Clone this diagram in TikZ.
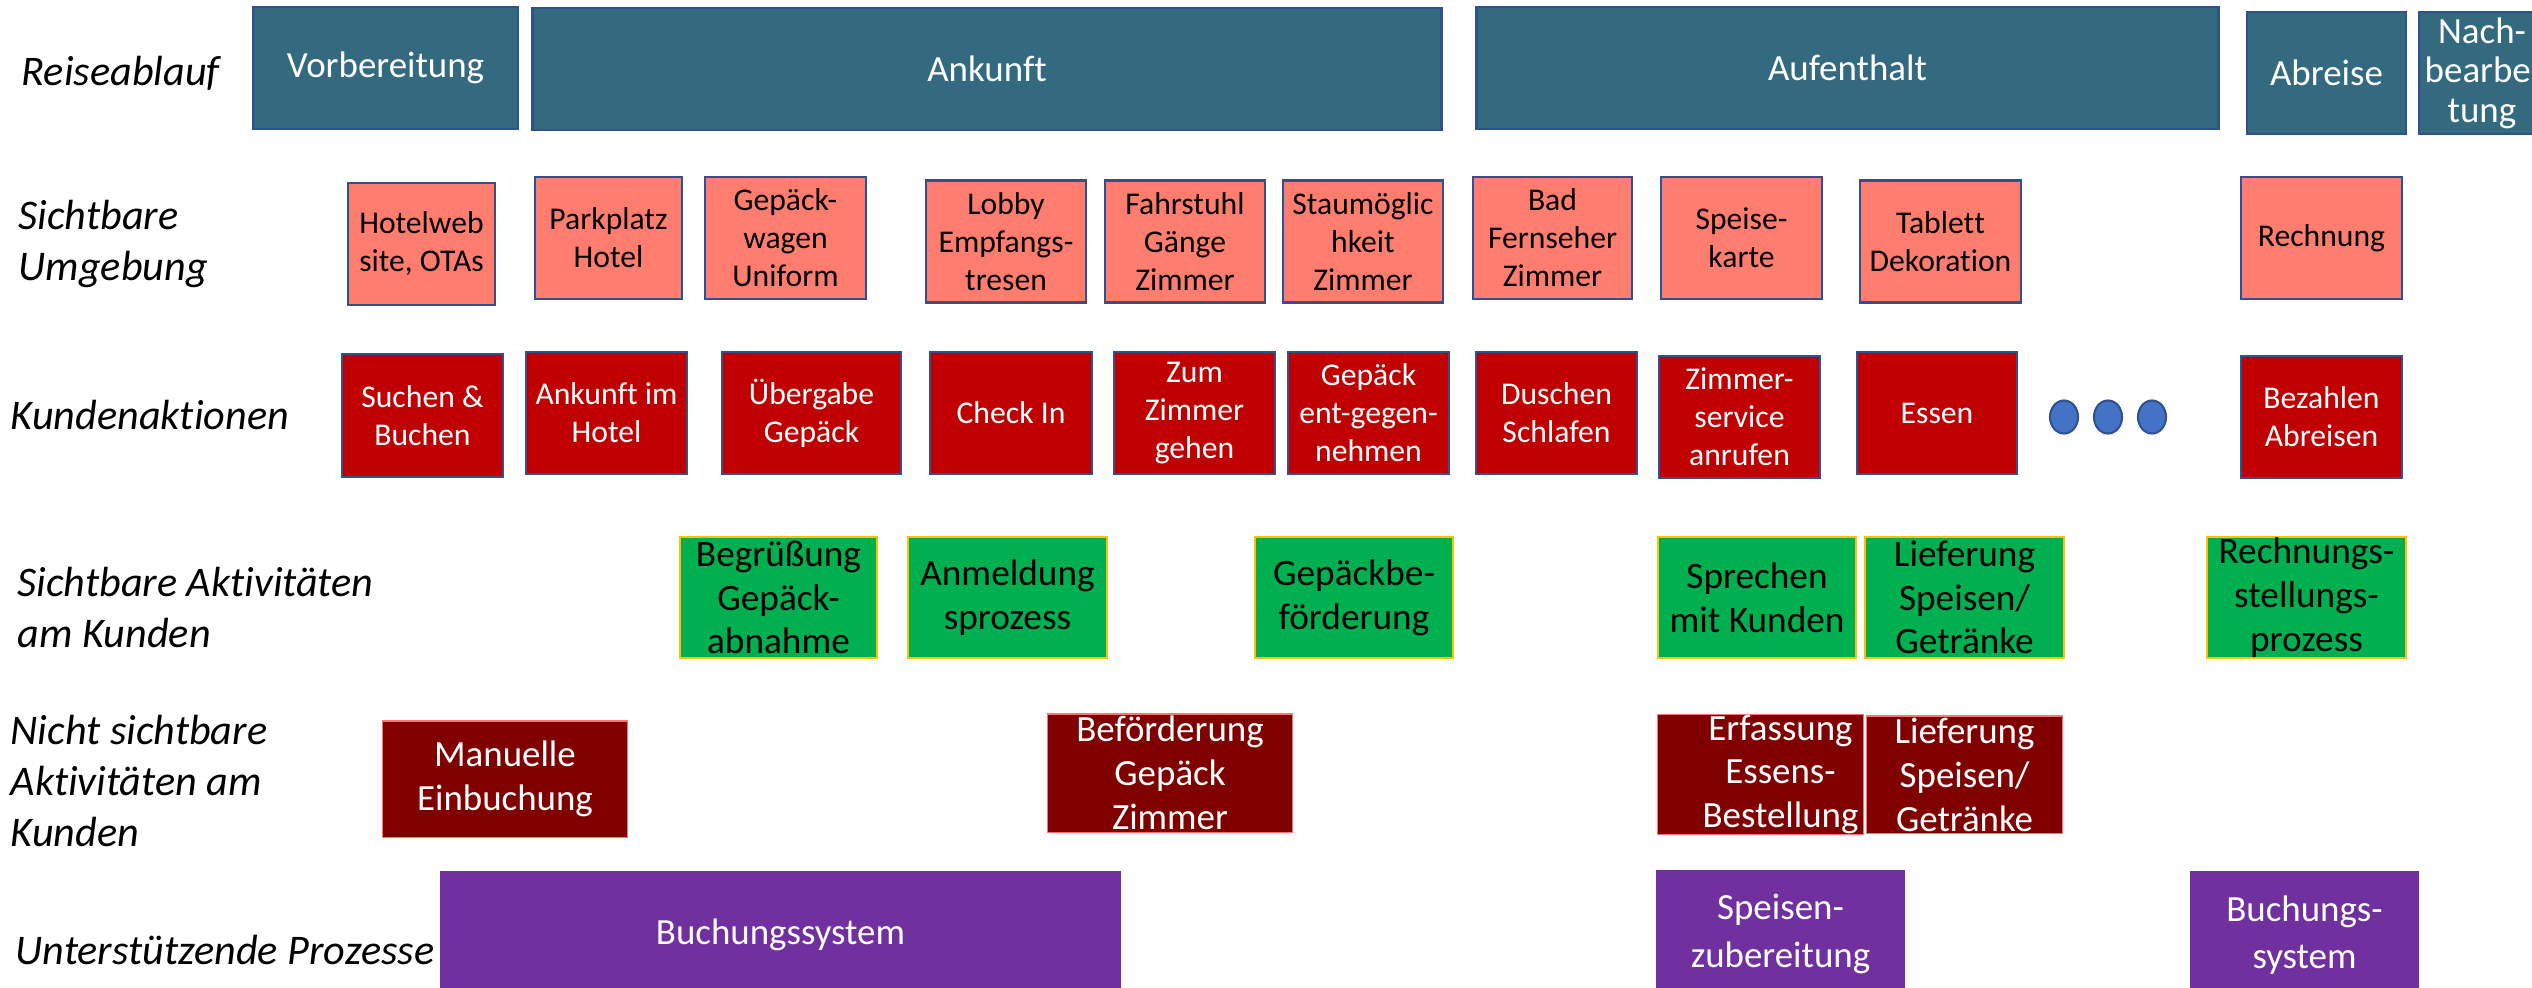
\documentclass[tikz,border=0pt]{standalone}
\usepackage{fontspec}
\setmainfont{Carlito}[Ligatures=NoCommon]
\usetikzlibrary{shapes.geometric}

\definecolor{tealbox}{RGB}{51,106,127}
\definecolor{edgeblue}{RGB}{47,82,143}
\definecolor{salmonbox}{RGB}{255,125,111}
\definecolor{redbox}{RGB}{192,0,0}
\definecolor{greenbox}{RGB}{0,176,80}
\definecolor{goldedge}{RGB}{255,192,0}
\definecolor{darkredbox}{RGB}{128,0,0}
\definecolor{purplebox}{RGB}{112,48,160}
\definecolor{dotblue}{RGB}{68,114,196}

\begin{document}
\begin{tikzpicture}[x=0.01cm, y=-0.01cm,
    lab/.style={anchor=west, align=left, inner sep=0pt, font=\fontsize{12}{14.5}\selectfont\itshape},
    phase/.style={draw=edgeblue, line width=0.8pt, fill=tealbox, text=white, align=center, inner sep=0pt, minimum height=1.22cm, font=\fontsize{10.5}{11.2}\selectfont},
    umgebung/.style={draw=edgeblue, line width=0.8pt, fill=salmonbox, text=black, align=center, inner sep=0pt, minimum width=1.61cm, minimum height=1.22cm, font=\fontsize{9}{10.8}\selectfont},
    aktion/.style={draw=edgeblue, line width=0.8pt, fill=redbox, text=white, align=center, inner sep=0pt, minimum width=1.61cm, minimum height=1.22cm, font=\fontsize{9}{10.8}\selectfont},
    sichtbar/.style={draw=goldedge, line width=0.5pt, fill=greenbox, text=black, align=center, inner sep=0pt, minimum width=1.98cm, minimum height=1.21cm, font=\fontsize{10.6}{12.4}\selectfont},
    verdeckt/.style={draw=red!55!white, line width=0.3pt, fill=darkredbox, text=white, align=center, inner sep=0pt, minimum height=1.17cm, font=\fontsize{10.5}{12.5}\selectfont},
    support/.style={fill=purplebox, text=white, align=center, inner sep=0pt, minimum height=1.28cm, font=\fontsize{10.5}{13.4}\selectfont},
    dot/.style={ellipse, draw=edgeblue, line width=0.6pt, fill=dotblue, minimum width=0.28cm, minimum height=0.33cm, inner sep=0pt}]

    % page size of the reference
    \useasboundingbox (0,0) rectangle (2532,987);

    % row titles
    \node[lab] (tReise) at (21,73) {Reiseablauf};
    \node[lab] (tUmgebung) at (18,244) {Sichtbare\\Umgebung};
    \node[lab] (tKunde) at (10,415) {Kundenaktionen};
    \node[lab] (tSichtbar) at (17,607) {Sichtbare Aktivitäten\\am Kunden};
    \node[lab] (tVerdeckt) at (10,781) {Nicht sichtbare\\Aktivitäten am\\Kunden};
    \node[lab] (tSupport) at (15,950) {Unterstützende Prozesse};

    % Reiseablauf
    \node[phase, minimum width=2.65cm] (vorb) at (385.5,68) {Vorbereitung};
    \node[phase, minimum width=9.08cm] (ankunft) at (987,69) {Ankunft};
    \node[phase, minimum width=7.41cm] (aufent) at (1847.5,68) {Aufenthalt};
    \node[phase, minimum width=1.59cm] (abreise) at (2326.5,73) {Abreise};
    \node[phase, minimum width=1.26cm] (nach) at (2482,73) {Nach-\\bearbei\\tung};

    % sichtbare Umgebung
    \node[umgebung, minimum width=1.47cm] (hotelweb) at (421.5,244) {Hotelweb\\site, OTAs};
    \node[umgebung, minimum width=1.47cm] (parkplatz) at (608.5,238) {Parkplatz\\Hotel};
    \node[umgebung] (gepwagen) at (785.5,238) {Gepäck-\\wagen\\Uniform};
    \node[umgebung, minimum width=1.6cm] (lobby) at (1006,241.5) {Lobby\\Empfangs-\\tresen};
    \node[umgebung, minimum width=1.6cm] (fahrstuhl) at (1185,241.5) {Fahrstuhl\\Gänge\\Zimmer};
    \node[umgebung, minimum width=1.6cm] (stau) at (1363,241.5) {Staumöglic\\hkeit\\Zimmer};
    \node[umgebung, minimum width=1.59cm] (bad) at (1552.5,238) {Bad\\Fernseher\\Zimmer};
    \node[umgebung] (speisekarte) at (1741.5,238) {Speise-\\karte};
    \node[umgebung] (tablett) at (1940.5,241.5) {Tablet\kern0pt t\\Dekoration};
    \node[umgebung] (rechnung) at (2321.5,238) {Rechnung};

    % Kundenaktionen
    \node[aktion, minimum height=1.23cm] (suchen) at (422.5,415.5) {Suchen \&\\Buchen};
    \node[aktion] (ankunftim) at (606.5,413) {Ankunft im\\Hotel};
    \node[aktion, minimum width=1.79cm] (uebergabe) at (811.5,413) {Übergabe\\Gepäck};
    \node[aktion, minimum width=1.62cm] (checkin) at (1011,413) {Check In};
    \node[aktion] (zumzimmer) at (1194.5,413) {Zum\\Zimmer\\gehen};
    \node[aktion] (gepent) at (1368.5,413) {Gepäck\\ent-gegen-\\nehmen};
    \node[aktion] (duschen) at (1556.5,413) {Duschen\\Schlafen};
    \node[aktion] (zimmerservice) at (1739.5,417) {Zimmer-\\service\\anrufen};
    \node[aktion, minimum width=1.6cm] (essen) at (1937,413) {Essen};
    \foreach \i/\x in {1/2064, 2/2108, 3/2152}
        \node[dot] (dot\i) at (\x,417) {};
    \node[aktion] (bezahlen) at (2321.5,417) {Bezahlen\\Abreisen};

    % sichtbare Aktivitaeten
    \node[sichtbar, minimum width=1.97cm] (begruessung) at (778.5,597.5) {Begrüßung\\Gepäck-\\abnahme};
    \node[sichtbar, minimum width=1.99cm] (anmeldung) at (1007.5,597.5) {Anmeldung\\sprozess};
    \node[sichtbar] (gepbef) at (1354,597.5) {Gepäckbe-\\förderung};
    \node[sichtbar] (sprechen) at (1757,597.5) {Sprechen\\mit Kunden};
    \node[sichtbar, minimum width=1.99cm] (lieferung) at (1964.5,597.5) {Lieferung\\Speisen/\\Getränke};
    \node[sichtbar, minimum width=1.99cm] (rechnungsst) at (2306.5,597.5) {Rechnungs-\\stellungs-\\prozess};

    % nicht sichtbare Aktivitaeten
    \node[verdeckt, minimum width=2.44cm, minimum height=1.16cm] (manuelle) at (505,779) {Manuelle\\Einbuchung};
    \node[verdeckt, minimum width=2.44cm, minimum height=1.18cm] (befoerderung) at (1170,773) {Beförderung\\Gepäck\\Zimmer};
    \node[verdeckt, minimum width=2.05cm] (erfassung) at (1760.5,774.5) {\hspace*{0.4cm}Erfassung\\\hspace*{0.4cm}Essens-\\\hspace*{0.4cm}Bestellung};
    \node[verdeckt, minimum width=1.95cm] (lieferung2) at (1964.5,774.5) {Lieferung\\Speisen/\\Getränke};

    % unterstuetzende Prozesse
    \node[support, minimum width=6.81cm] (buchung) at (780.5,935) {Buchungssystem};
    \node[support, minimum width=2.49cm] (speisenzub) at (1780.5,934) {Speisen-\\zubereitung};
    \node[support, minimum width=2.29cm] (buchung2) at (2304.5,935) {Buchungs-\\system};

\end{tikzpicture}
\end{document}
